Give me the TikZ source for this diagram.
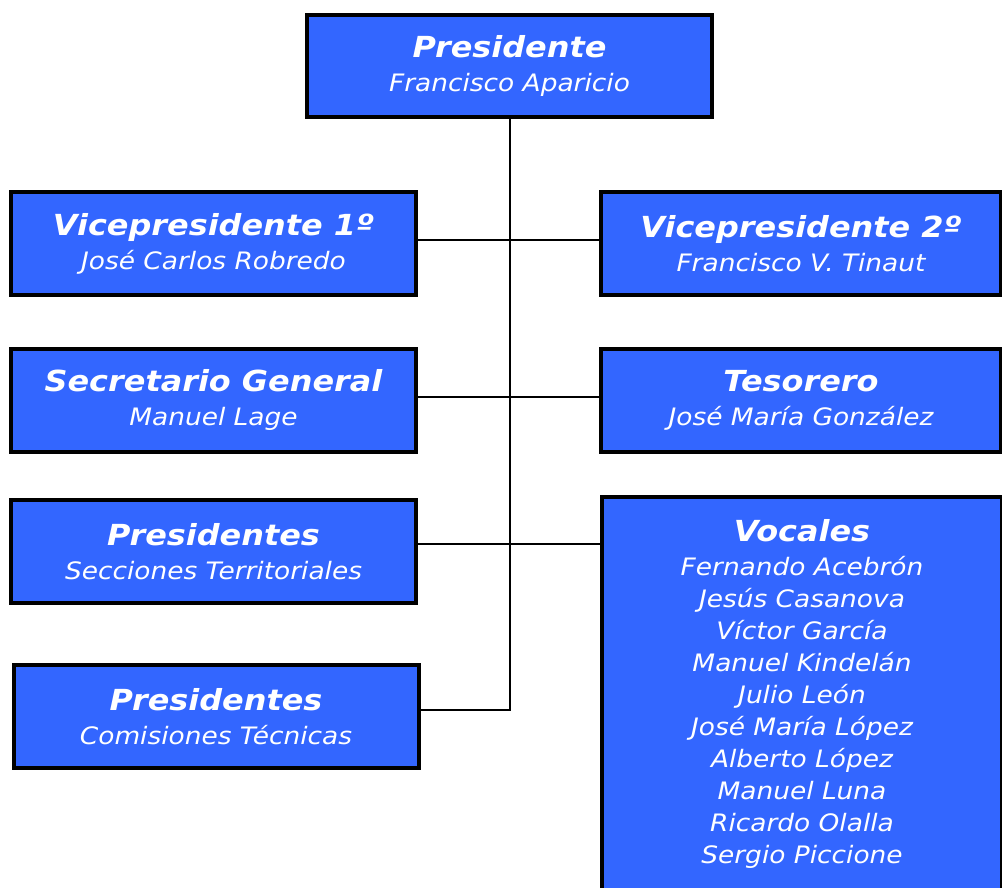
\documentclass[tikz,border=0pt]{standalone}
\usepackage{fontspec}
\setmainfont{DejaVu Sans}[FakeStretch=1.1]
\definecolor{cargoblue}{RGB}{51,102,255}
\newcommand{\cargotitle}[1]{{\fontsize{14.5}{17}\selectfont\bfseries\itshape #1}}

\begin{document}
\begin{tikzpicture}[x=0.5pt,y=-0.5pt,
    cargo/.style={draw=black,line width=2pt,fill=cargoblue,text=white,
      align=center,minimum width=202.5pt,minimum height=51.5pt,inner sep=0pt,
      font=\fontsize{12}{16}\selectfont\itshape},
    enlace/.style={line width=1pt}]
    \useasboundingbox (0,0) rectangle (1002,888);

    % Boxes
    \node[cargo,minimum height=51pt] (pres) at (509.5,66) {\cargotitle{Presidente}\\[1pt]Francisco Aparicio};
    \node[cargo] (vp1) at (213.5,243.5) {\cargotitle{Vicepresidente 1º}\\[1pt]José Carlos Robredo};
    \node[cargo,minimum width=200pt] (vp2) at (801,243.5) {\cargotitle{Vicepresidente 2º}\\[1pt]Francisco V. Tinaut};
    \node[cargo] (sec) at (213.5,400) {\cargotitle{Secretario General}\\[1pt]Manuel Lage};
    \node[cargo,minimum width=200pt] (tes) at (801,400) {\cargotitle{Tesorero}\\[1pt]José María González};
    \node[cargo] (terr) at (213.5,551.5) {\cargotitle{Presidentes}\\[1pt]Secciones Territoriales};
    \node[cargo] (com) at (216,716.5) {\cargotitle{Presidentes}\\[1pt]Comisiones Técnicas};
    \node[cargo,minimum width=200pt,minimum height=198pt] (voc) at (802,695)
      {\cargotitle{Vocales}\\[1pt]Fernando Acebrón\\Jesús Casanova\\Víctor García\\
       Manuel Kindelán\\Julio León\\José María López\\Alberto López\\Manuel Luna\\
       Ricardo Olalla\\Sergio Piccione\\[-12pt]\mbox{}};

    % Lines
    \draw[enlace] (pres.south) -- ([yshift=3.25pt]pres.south |- com.east) -- ([yshift=3.25pt]com.east);
    \draw[enlace] ([yshift=1.75pt]vp1.east) -- ([yshift=1.75pt]vp2.west);
    \draw[enlace] ([yshift=1.5pt]sec.east) -- ([yshift=1.5pt]tes.west);
    \draw[enlace] ([yshift=3.75pt]terr.east) -- ([yshift=3.75pt]terr.east -| voc.west);
\end{tikzpicture}
\end{document}
